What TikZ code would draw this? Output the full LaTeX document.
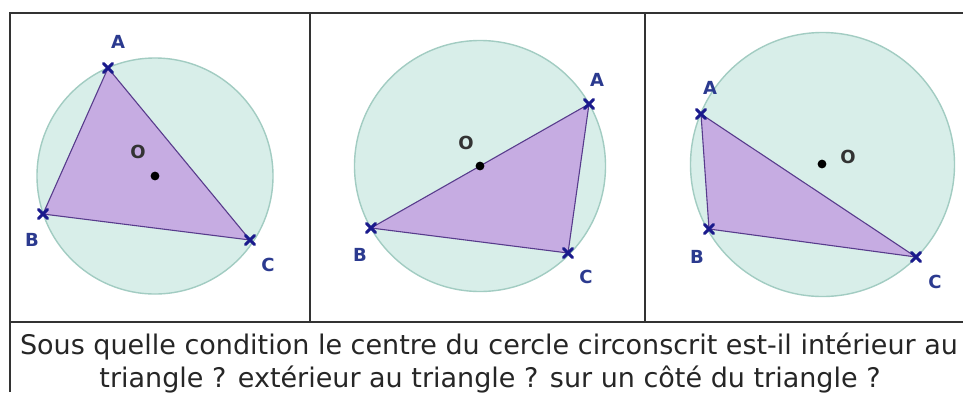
\documentclass[tikz,border=0pt]{standalone}
\usepackage{fontspec}
\setmainfont{DejaVu Sans}
\definecolor{circfill}{HTML}{D8EEE9}
\definecolor{circline}{HTML}{A2CCC2}
\definecolor{trifill}{HTML}{C6ACE2}
\definecolor{triline}{HTML}{583C8C}
\definecolor{ptblue}{HTML}{1A1A8C}
\definecolor{lblblue}{HTML}{2B3A8F}
\definecolor{frame}{HTML}{333333}
\begin{document}
\begin{tikzpicture}[x=1pt,y=-1pt,
  circ/.style={fill=circfill,draw=circline,line width=1.4pt},
  tri/.style={fill=trifill,draw=triline,line width=1.1pt,line join=round},
  ptlbl/.style={text=lblblue,font=\bfseries\fontsize{18}{18}\selectfont,inner sep=0pt},
  olbl/.style={text=frame,font=\bfseries\fontsize{18}{18}\selectfont,inner sep=0pt},
  framel/.style={draw=frame,line width=1.8pt},
  qtext/.style={font=\fontsize{27}{33}\selectfont,text=black!85,inner sep=0pt,anchor=base},
  ptx/.pic={\draw[draw=ptblue,line width=3pt,line cap=round] (-4.5,-4.5) -- (4.5,4.5) (-4.5,4.5) -- (4.5,-4.5);}]
\useasboundingbox (0,0) rectangle (963,392);
\fill[white] (0,0) rectangle (963,392);
% panel 1
\draw[circ] (155,176) circle (118);
\coordinate (A1) at (108,68);
\coordinate (B1) at (43,214);
\coordinate (C1) at (250,240);
\draw[tri] (A1) -- (B1) -- (C1) -- cycle;
\fill (155,176) circle (4.4);
\pic at (A1) {ptx}; \pic at (B1) {ptx}; \pic at (C1) {ptx};
\node[olbl] (O1) at (138,152) {O};
\node[ptlbl] (LA1) at (118,42) {A};
\node[ptlbl] (LB1) at (32,240) {B};
\node[ptlbl] (LC1) at (268,265) {C};
% panel 2
\draw[circ] (480,166) circle (125.5);
\coordinate (A2) at (589,104);
\coordinate (B2) at (371,228);
\coordinate (C2) at (568,253);
\draw[tri] (A2) -- (B2) -- (C2) -- cycle;
\fill (480,166) circle (4.4);
\pic at (A2) {ptx}; \pic at (B2) {ptx}; \pic at (C2) {ptx};
\node[olbl] (O2) at (466,143) {O};
\node[ptlbl] (LA2) at (597,80) {A};
\node[ptlbl] (LB2) at (360,255) {B};
\node[ptlbl] (LC2) at (586,277) {C};
% panel 3
\draw[circ] (822.5,164.5) circle (132);
\coordinate (A3) at (701,114);
\coordinate (B3) at (709,229);
\coordinate (C3) at (916,257);
\draw[tri] (A3) -- (B3) -- (C3) -- cycle;
\fill (822,164) circle (4.4);
\pic at (A3) {ptx}; \pic at (B3) {ptx}; \pic at (C3) {ptx};
\node[olbl] (O3) at (848,157) {O};
\node[ptlbl] (LA3) at (710,88) {A};
\node[ptlbl] (LB3) at (697,257) {B};
\node[ptlbl] (LC3) at (935,282) {C};
% frame
\draw[framel] (10,392) -- (10,13) -- (963,13);
\draw[framel] (310,13) -- (310,322);
\draw[framel] (645,13) -- (645,322);
\draw[framel] (10,322) -- (963,322);
% question
\node[qtext] (Q1) at (489,354) {Sous quelle condition le centre du cercle circonscrit est-il intérieur au};
\node[qtext] (Q2) at (490,387) {triangle ? extérieur au triangle ? sur un côté du triangle ?};
\end{tikzpicture}
\end{document}
